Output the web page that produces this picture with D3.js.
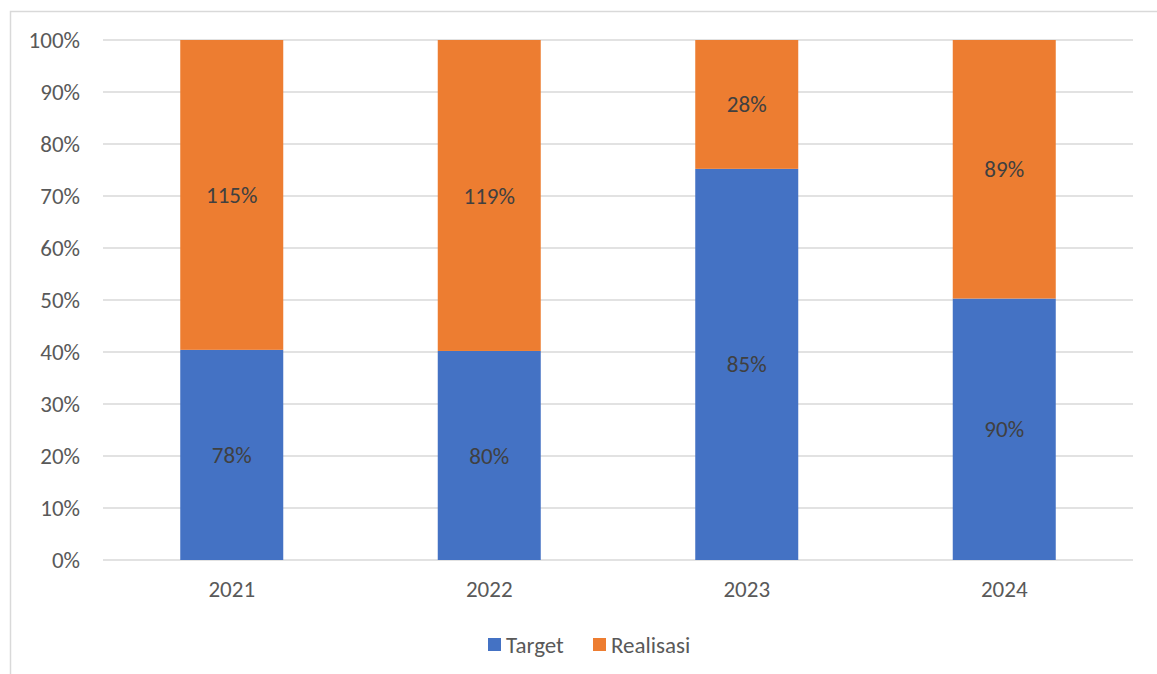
<!DOCTYPE html>
<html>
<head>
<meta charset="utf-8">
<script src="https://cdn.jsdelivr.net/npm/d3@7"></script>
<style>
body { margin: 0; background: #fff; }
text { font-family: Carlito, Lato, "Liberation Sans", sans-serif; }
</style>
</head>
<body>
<div id="chart"></div>
<script>
var years = ["2021", "2022", "2023", "2024"];
var target = [78, 80, 85, 90];
var realisasi = [115, 119, 28, 89];
var seriesNames = ["Target", "Realisasi"];
var colors = ["#4472C4", "#ED7D31"];
var yTicks = [0, 0.1, 0.2, 0.3, 0.4, 0.5, 0.6, 0.7, 0.8, 0.9, 1];

var width = 1157, height = 674;
var fs = 23;
var svg = d3.select("#chart").append("svg")
	.attr("width", width)
	.attr("height", height);

// chart frame
svg.append("rect")
	.attr("x", 10.5).attr("y", 11.5)
	.attr("width", 1160).attr("height", 700)
	.attr("fill", "none")
	.attr("stroke", "#d9d9d9")
	.attr("stroke-width", 1.5);

var plotL = 103, plotR = 1133, plotT = 40, plotB = 560;

var x = d3.scaleBand().domain(years).range([plotL, plotR]).paddingInner(0.6).paddingOuter(0.3);
var y = d3.scaleLinear().domain([0, 1]).range([plotB, plotT]);

// gridlines
svg.append("g").selectAll("line")
	.data(yTicks)
	.enter().append("line")
	.attr("x1", plotL).attr("x2", plotR)
	.attr("y1", function (d) { return y(d); })
	.attr("y2", function (d) { return y(d); })
	.attr("stroke", "#d9d9d9")
	.attr("stroke-width", 1.5);

var rows = years.map(function (yr, i) {
	return { year: yr, Target: target[i], Realisasi: realisasi[i] };
});
var stacked = d3.stack().keys(seriesNames).offset(d3.stackOffsetExpand)(rows);

var groups = svg.append("g").selectAll("g")
	.data(stacked)
	.enter().append("g")
	.attr("fill", function (d, i) { return colors[i]; });

groups.selectAll("rect")
	.data(function (d) { return d; })
	.enter().append("rect")
	.attr("x", function (d) { return x(d.data.year); })
	.attr("width", x.bandwidth())
	.attr("y", function (d) { return y(d[1]); })
	.attr("height", function (d) { return y(d[0]) - y(d[1]); });

// data labels
stacked.forEach(function (s) {
	svg.append("g").selectAll("text")
		.data(s)
		.enter().append("text")
		.attr("x", function (d) { return x(d.data.year) + x.bandwidth() / 2; })
		.attr("y", function (d) { return (y(d[0]) + y(d[1])) / 2; })
		.attr("dy", "0.35em")
		.attr("text-anchor", "middle")
		.attr("font-size", fs)
		.attr("fill", "#404040")
		.text(function (d) { return d.data[s.key] + "%"; });
});

// y axis labels
var yAxis = d3.axisLeft(y).tickValues(yTicks).tickFormat(d3.format(".0%")).tickSize(0).tickPadding(23);
var ya = svg.append("g").attr("transform", "translate(" + plotL + ",0)").call(yAxis);
ya.select(".domain").remove();
ya.selectAll("text").attr("font-size", fs).attr("fill", "#595959");
ya.attr("font-family", null).attr("font-size", null);

// x axis labels
var xAxis = d3.axisBottom(x).tickSize(0).tickPadding(21);
var xa = svg.append("g").attr("transform", "translate(0," + plotB + ")").call(xAxis);
xa.select(".domain").remove();
xa.selectAll("text").attr("font-size", fs).attr("fill", "#595959");
xa.attr("font-family", null).attr("font-size", null);

// legend
var legendX = [488, 593];
var legend = svg.append("g").selectAll("g")
	.data(seriesNames)
	.enter().append("g")
	.attr("transform", function (d, i) { return "translate(" + legendX[i] + ",638)"; });
legend.append("rect")
	.attr("width", 13).attr("height", 13)
	.attr("fill", function (d, i) { return colors[i]; });
legend.append("text")
	.attr("x", 18).attr("y", 6.5)
	.attr("dy", "0.35em")
	.attr("font-size", fs)
	.attr("fill", "#595959")
	.text(function (d) { return d; });
</script>
</body>
</html>
